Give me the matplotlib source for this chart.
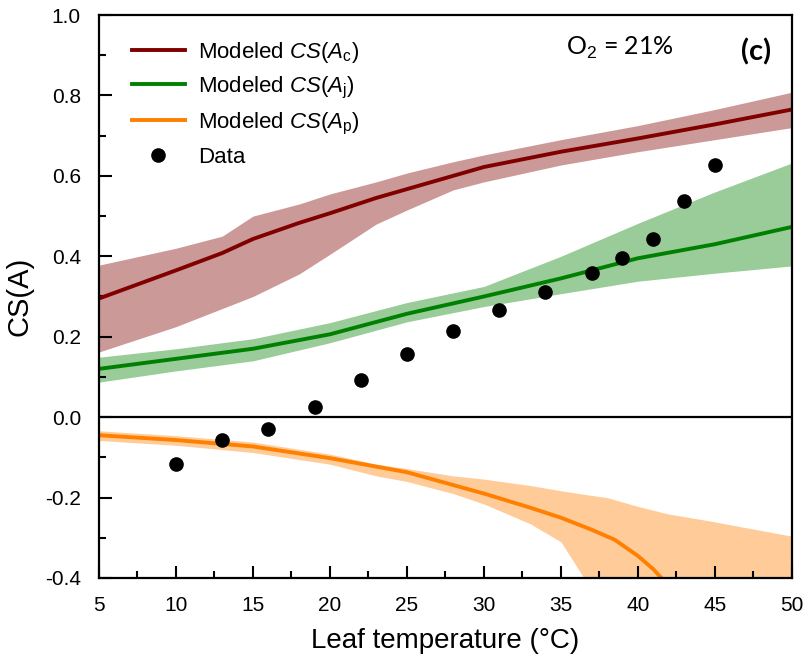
import numpy as np
import matplotlib
matplotlib.use("Agg")
import matplotlib.pyplot as plt
from matplotlib.ticker import MultipleLocator, FormatStrFormatter

plt.rcParams["font.family"] = ["Liberation Sans", "DejaVu Sans"]
plt.rcParams["mathtext.fontset"] = "custom"
plt.rcParams["mathtext.rm"] = "Liberation Sans"
plt.rcParams["mathtext.it"] = "Liberation Sans:italic"
plt.rcParams["axes.unicode_minus"] = False

# ----------------------------
# data
# ----------------------------

# measured points
t_data = [10, 13, 16, 19, 22, 25, 28, 31, 34, 37, 39, 41, 43, 45]
cs_data = [-0.117, -0.057, -0.030, 0.025, 0.092, 0.157, 0.214, 0.266,
           0.310, 0.358, 0.396, 0.443, 0.537, 0.627]

# modeled CS(Ac)
t_c = [5, 10, 13, 15, 18, 20, 23, 25, 28, 30, 35, 40, 45, 50]
cs_c = [0.295, 0.365, 0.408, 0.443, 0.483, 0.507, 0.545, 0.567, 0.600,
        0.622, 0.660, 0.693, 0.728, 0.765]
cs_c_lo = [0.162, 0.225, 0.270, 0.300, 0.356, 0.405, 0.480, 0.515, 0.565,
           0.585, 0.627, 0.660, 0.690, 0.720]
cs_c_hi = [0.378, 0.420, 0.450, 0.500, 0.530, 0.555, 0.585, 0.607, 0.635,
           0.652, 0.690, 0.725, 0.765, 0.808]

# modeled CS(Aj)
t_j = [5, 10, 15, 20, 25, 30, 35, 40, 45, 50]
cs_j = [0.120, 0.145, 0.170, 0.206, 0.257, 0.300, 0.345, 0.395, 0.430, 0.473]
cs_j_lo = [0.087, 0.115, 0.140, 0.185, 0.237, 0.275, 0.307, 0.338, 0.358, 0.376]
cs_j_hi = [0.149, 0.170, 0.195, 0.235, 0.285, 0.325, 0.400, 0.482, 0.560, 0.632]

# modeled CS(Ap)
t_p = [5, 10, 15, 20, 25, 30, 33, 35, 37, 38.5, 40, 41, 42]
cs_p = [-0.045, -0.057, -0.073, -0.102, -0.137, -0.190, -0.225, -0.250,
        -0.280, -0.305, -0.345, -0.378, -0.420]
t_p_band = [5, 10, 15, 20, 23, 25, 28, 30, 33, 35, 36.5, 38, 40, 42, 44.5, 50]
cs_p_lo = [-0.058, -0.070, -0.088, -0.117, -0.146, -0.160, -0.190, -0.216,
           -0.265, -0.310, -0.400, -0.500, -0.600, -0.600, -0.600, -0.600]
cs_p_hi = [-0.034, -0.046, -0.062, -0.092, -0.117, -0.128, -0.146, -0.154,
           -0.170, -0.183, -0.192, -0.200, -0.222, -0.241, -0.257, -0.296]

# ----------------------------
# plot
# ----------------------------

fig = plt.figure(figsize=(8.08, 6.58), dpi=100)
ax = fig.add_axes([0.1225, 0.1216, 0.8575, 0.8556])

red, green, orange = "#800000", "#008000", "#ff8000"

ax.fill_between(t_c, cs_c_lo, cs_c_hi, color="#cc9999", lw=0)
ax.fill_between(t_j, cs_j_lo, cs_j_hi, color="#99cc99", lw=0)
ax.fill_between(t_p_band, cs_p_lo, cs_p_hi, color="#ffcc99", lw=0)

ax.plot(t_c, cs_c, color=red, lw=2.8, label=r"Modeled $CS$($A_\mathrm{c}$)")
ax.plot(t_j, cs_j, color=green, lw=2.8, label=r"Modeled $CS$($A_\mathrm{j}$)")
ax.plot(t_p, cs_p, color=orange, lw=2.8, label=r"Modeled $CS$($A_\mathrm{p}$)")
ax.plot(t_data, cs_data, "o", color="black", ms=9.5, label="Data")

ax.axhline(0, color="black", lw=1.6)

ax.set_xlim(5, 50)
ax.set_ylim(-0.4, 1.0)
ax.xaxis.set_major_locator(MultipleLocator(5))
ax.xaxis.set_minor_locator(MultipleLocator(2.5))
ax.yaxis.set_major_locator(MultipleLocator(0.2))
ax.yaxis.set_minor_locator(MultipleLocator(0.1))
ax.yaxis.set_major_formatter(FormatStrFormatter("%.1f"))
ax.tick_params(which="both", direction="in", width=1.5, labelsize=15)
ax.tick_params(which="major", length=9, pad=13)
ax.tick_params(which="minor", length=5)
for s in ax.spines.values():
    s.set_linewidth(1.6)

ax.set_xlabel("Leaf temperature (\u00b0C)", fontsize=20, labelpad=9)
ax.set_ylabel("CS(A)", fontsize=21, labelpad=8)

ax.legend(loc="upper left", bbox_to_anchor=(0.028, 0.98), frameon=False,
          fontsize=16, handlelength=2.4, labelspacing=0.45,
          handletextpad=0.6, borderaxespad=0.2)

ax.text(0.752, 0.942, r"O$_2$ = 21%", transform=ax.transAxes,
        ha="center", va="center", fontsize=18, family=["Lato", "DejaVu Sans"])
ax.text(0.948, 0.934, "(c)", transform=ax.transAxes,
        ha="center", va="center", fontsize=21, fontweight="bold",
        family=["Lato", "DejaVu Sans"])

fig.savefig("out.png", dpi=100)
